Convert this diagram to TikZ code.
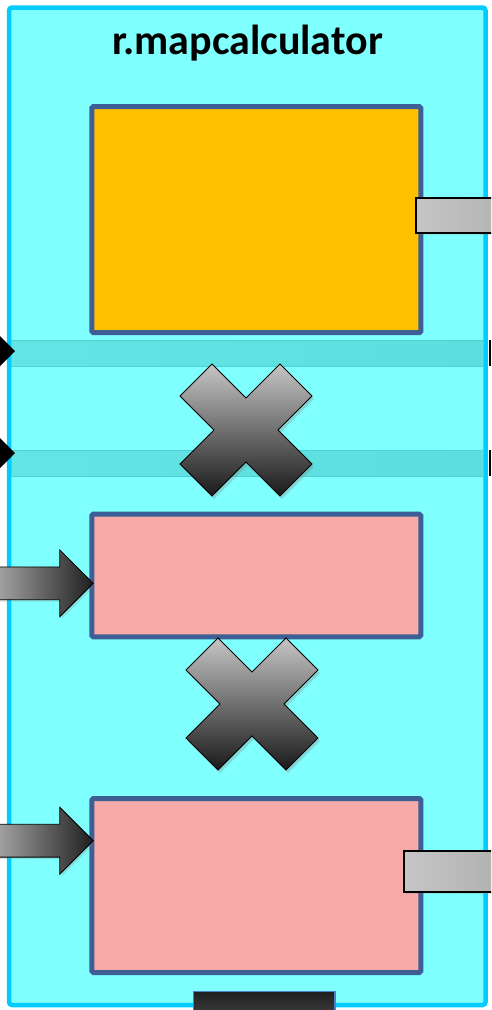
\documentclass[tikz,border=0pt]{standalone}
\usepackage{fontspec}
\setmainfont{Carlito}
\usetikzlibrary{positioning, shapes.arrows, shadows}
\definecolor{lanefill}{RGB}{128,255,255}
\definecolor{laneedge}{RGB}{0,204,255}
\definecolor{bandfill}{RGB}{92,222,222}
\definecolor{bandedge}{RGB}{78,208,212}
\definecolor{calcfill}{RGB}{255,192,0}
\definecolor{opfill}{RGB}{247,170,167}
\definecolor{boxedge}{RGB}{62,95,150}
\definecolor{portedge}{RGB}{80,125,200}

\begin{document}
\begin{tikzpicture}[x=1pt, y=-1pt,
  box/.style={draw=boxedge, line width=5pt, rounded corners=1.5pt, inner sep=0pt, minimum width=329pt},
  stub/.style={draw=black, line width=2pt, left color=gray!45, right color=gray!62, inner sep=0pt, anchor=west, minimum width=100pt,
    drop shadow={opacity=0.2, shadow xshift=1.5pt, shadow yshift=-2pt}},
  inarrow/.style={single arrow, draw=black, line width=0.8pt, left color=gray!62, right color=black!88,
    single arrow head extend=17pt, minimum height=105pt, minimum width=66pt, inner xsep=0pt, inner ysep=16pt, anchor=tip,
    drop shadow={opacity=0.25, shadow xshift=2pt, shadow yshift=-2pt}},
  band/.style={left color=bandfill!80!lanefill, right color=bandfill, draw=bandedge, line width=1pt},
  cross/.pic={\draw[draw=black, line width=1pt, top color=gray!45, bottom color=black!90,
      drop shadow={opacity=0.3, shadow xshift=2pt, shadow yshift=-3pt}]
      (-34,-66) -- (0,-32) -- (34,-66) -- (66,-34) -- (32,0) -- (66,34) -- (34,66)
      -- (0,32) -- (-34,66) -- (-66,34) -- (-32,0) -- (-66,-34) -- cycle;}]
  \useasboundingbox (0,0) rectangle (491,1010);
  \clip (0,0) rectangle (491,1010);

  % swimlane
  \node[draw=laneedge, fill=lanefill, line width=4.5pt, rounded corners=3pt,
        minimum width=476.5pt, minimum height=997.5pt, inner sep=0pt] (lane) at (247.25,506.25) {};
  \node[font=\bfseries\fontsize{42}{50}\selectfont, anchor=base] (title) at (247.5,54.5) {r.mapcalculator};

  % horizontal bands with their ends
  \path[band] (11.5,340) rectangle (483,366);
  \path[band] (11.5,450) rectangle (483,476);
  \fill[black] (0,336) -- (15,351) -- (0,366) -- cycle;
  \fill[black] (0,438) -- (15,453) -- (0,468) -- cycle;
  \fill[black] (488.5,340) rectangle (491,366);
  \fill[black] (488.5,450) rectangle (491,476);

  % operator boxes
  \node[box, fill=calcfill, minimum height=226pt] (calc) at (256.3,219.7) {};
  \node[box, fill=opfill, minimum height=122.6pt] (opone) at (256.3,575.5) {};
  \node[box, fill=opfill, minimum height=174pt] (optwo) at (256.3,885.5) {};

  % multiplication signs
  \coordinate (multone) at (246,430);
  \coordinate (multtwo) at (252,704);
  \pic at (multone) {cross};
  \pic at (multtwo) {cross};

  % inputs
  \node[inarrow] (inone) at ([xshift=4.5pt, yshift=-7.8pt]opone.west) {};
  \node[inarrow] (intwo) at ([xshift=4.5pt, yshift=44.8pt]optwo.west) {};

  % outputs
  \node[stub, minimum height=34.4pt] (outcalc) at (415,215.5) {};
  \node[stub, minimum height=41.3pt] (outop) at (403.3,871.7) {};
  \node[draw=portedge, line width=1.5pt, top color=black!88, bottom color=black!72,
        minimum width=141.7pt, minimum height=30pt, inner sep=0pt, anchor=north] (outbottom) at (264.2,990.7) {};
\end{tikzpicture}
\end{document}
